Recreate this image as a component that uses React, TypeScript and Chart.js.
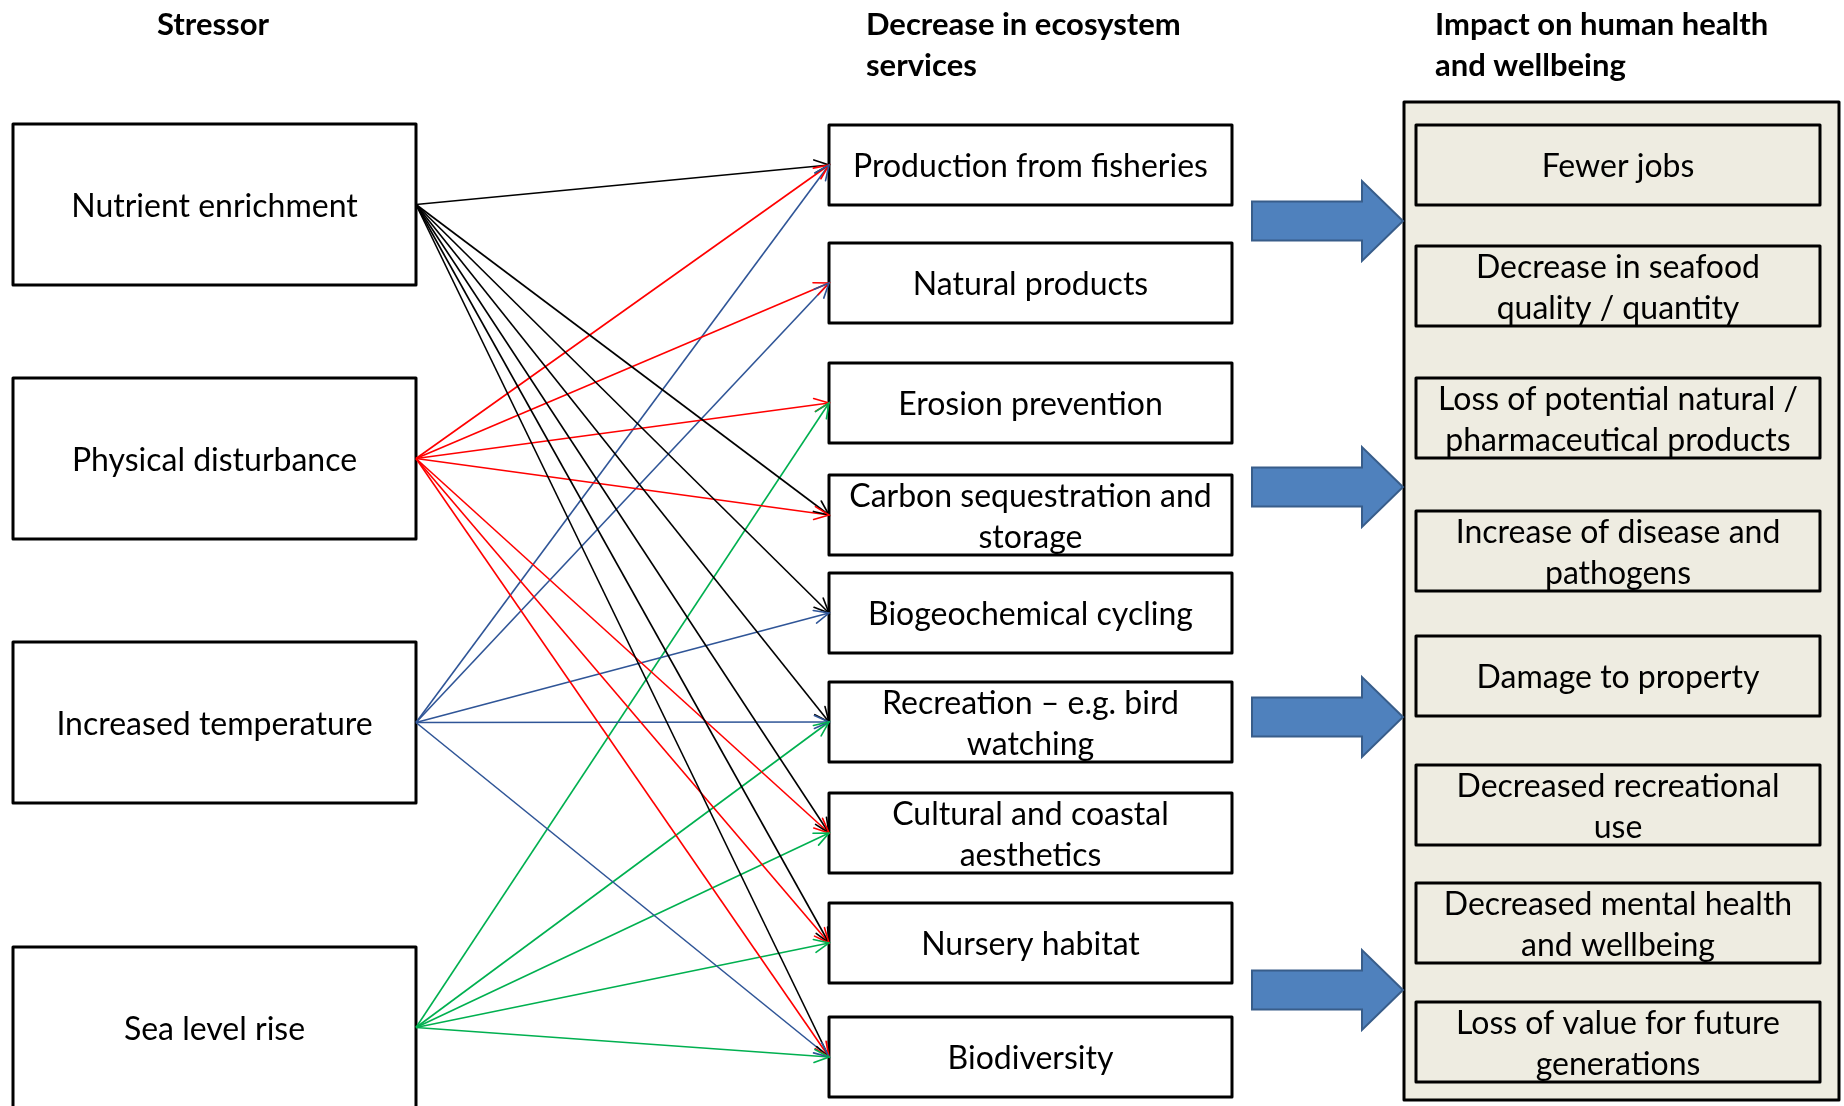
import React, { useEffect, useRef } from "react";
import { Chart, registerables } from "chart.js";

Chart.register(...registerables);

// ---------- content ----------
const headerStressor = ["Stressor"];
const headerServices = ["Decrease in ecosystem", "services"];
const headerImpacts = ["Impact on human health", "and wellbeing"];

const stressors = [
  ["Nutrient enrichment"],
  ["Physical disturbance"],
  ["Increased temperature"],
  ["Sea level rise"],
];

const services = [
  ["Production from fisheries"],
  ["Natural products"],
  ["Erosion prevention"],
  ["Carbon sequestration and", "storage"],
  ["Biogeochemical cycling"],
  ["Recreation \u2013 e.g. bird", "watching"],
  ["Cultural and coastal", "aesthetics"],
  ["Nursery habitat"],
  ["Biodiversity"],
];

const impacts = [
  ["Fewer jobs"],
  ["Decrease in seafood", "quality / quantity"],
  ["Loss of potential natural /", "pharmaceutical products"],
  ["Increase of disease and", "pathogens"],
  ["Damage to property"],
  ["Decreased recreational", "use"],
  ["Decreased mental health", "and wellbeing"],
  ["Loss of value for future", "generations"],
];

// stressor index -> list of service indices it affects
const links = [
  [0, 3, 4, 5, 6, 7, 8],
  [0, 1, 2, 3, 6, 7, 8],
  [0, 1, 4, 5, 8],
  [2, 5, 6, 7, 8],
];

// ---------- layout & style (positions in data units of the 1844x1106 scales) ----------
const layout = {
  stressorX: [13, 416],
  stressorTops: [124, 378, 642, 947],
  stressorH: 161,
  serviceX: [829, 1232],
  serviceTops: [125, 243, 363, 475, 573, 682, 793, 903, 1017],
  boxH: 80,
  panel: [1404, 102, 1839, 1100],
  impactX: [1416, 1820],
  impactTops: [125, 246, 378, 511, 636, 765, 883, 1002],
  blockArrowTipsY: [221, 487, 717, 990],
  blockArrow: { x0: 1252, xh: 1362, xt: 1403, shaftHalf: 19.5, headHalf: 40 },
};

const linkColors = ["#000000", "#FF0000", "#2F5597", "#00B050"];
const FONT = "Lato, 'Open Sans', sans-serif";

export default function App() {
  const ref = useRef<HTMLCanvasElement | null>(null);

  useEffect(() => {
    let chart: Chart | null = null;
    let cancelled = false;

    const stressorMid = (i: number) => layout.stressorTops[i] + layout.stressorH / 2;
    const serviceMid = (j: number) => layout.serviceTops[j] + layout.boxH / 2;

    const datasets: any[] = [];
    links.forEach((targets, i) => {
      targets.forEach((j) => {
        datasets.push({
          type: "line",
          data: [
            { x: layout.stressorX[1], y: stressorMid(i) },
            { x: layout.serviceX[0], y: serviceMid(j) },
          ],
          borderColor: linkColors[i],
          borderWidth: 1.6,
          pointRadius: 0,
          fill: false,
          showLine: true,
          tension: 0,
        });
      });
    });

    const diagram = {
      id: "diagram",
      beforeDatasetsDraw(c: any) {
        const ctx = c.ctx as CanvasRenderingContext2D;
        const X = (v: number) => c.scales.x.getPixelForValue(v);
        const Y = (v: number) => c.scales.y.getPixelForValue(v);
        ctx.save();
        ctx.fillStyle = "#ffffff";
        ctx.fillRect(0, 0, c.width, c.height);

        // headers
        ctx.fillStyle = "#000";
        ctx.font = `bold 31px ${FONT}`;
        ctx.textBaseline = "alphabetic";
        ctx.textAlign = "center";
        ctx.fillText(headerStressor[0], X(213), Y(34.5));
        ctx.textAlign = "left";
        headerServices.forEach((t, k) => ctx.fillText(t, X(866), Y(34.5 + 41 * k)));
        headerImpacts.forEach((t, k) => ctx.fillText(t, X(1435), Y(34.5 + 41 * k)));

        const box = (x0: number, y0: number, x1: number, y1: number, fill: string, lines: string[]) => {
          const px0 = X(x0), py0 = Y(y0), px1 = X(x1), py1 = Y(y1);
          ctx.fillStyle = fill;
          ctx.fillRect(px0, py0, px1 - px0, py1 - py0);
          ctx.lineWidth = 3;
          ctx.strokeStyle = "#000";
          ctx.lineJoin = "round";
          ctx.strokeRect(px0, py0, px1 - px0, py1 - py0);
          ctx.fillStyle = "#000";
          ctx.font = `32px ${FONT}`;
          ctx.textAlign = "center";
          ctx.textBaseline = "alphabetic";
          const cx = (px0 + px1) / 2;
          const cy = (py0 + py1) / 2;
          const n = lines.length;
          lines.forEach((t, k) => {
            const off = (k - (n - 1) / 2) * 41;
            ctx.fillText(t, cx, cy + 12 + off);
          });
        };

        stressors.forEach((s, i) =>
          box(layout.stressorX[0], layout.stressorTops[i], layout.stressorX[1], layout.stressorTops[i] + layout.stressorH, "#fff", s)
        );
        services.forEach((s, j) =>
          box(layout.serviceX[0], layout.serviceTops[j], layout.serviceX[1], layout.serviceTops[j] + layout.boxH, "#fff", s)
        );

        // right panel
        const [p0, p1, p2, p3] = layout.panel;
        ctx.fillStyle = "#EEECE1";
        ctx.fillRect(X(p0), Y(p1), X(p2) - X(p0), Y(p3) - Y(p1));
        ctx.lineWidth = 3;
        ctx.strokeStyle = "#000";
        ctx.strokeRect(X(p0), Y(p1), X(p2) - X(p0), Y(p3) - Y(p1));
        impacts.forEach((s, k) =>
          box(layout.impactX[0], layout.impactTops[k], layout.impactX[1], layout.impactTops[k] + layout.boxH, "#EEECE1", s)
        );

        // block arrows
        const a = layout.blockArrow;
        layout.blockArrowTipsY.forEach((ty) => {
          ctx.beginPath();
          ctx.moveTo(X(a.x0), Y(ty - a.shaftHalf));
          ctx.lineTo(X(a.xh), Y(ty - a.shaftHalf));
          ctx.lineTo(X(a.xh), Y(ty - a.headHalf));
          ctx.lineTo(X(a.xt), Y(ty));
          ctx.lineTo(X(a.xh), Y(ty + a.headHalf));
          ctx.lineTo(X(a.xh), Y(ty + a.shaftHalf));
          ctx.lineTo(X(a.x0), Y(ty + a.shaftHalf));
          ctx.closePath();
          ctx.fillStyle = "#4F81BD";
          ctx.fill();
          ctx.lineWidth = 2;
          ctx.strokeStyle = "#385D8A";
          ctx.lineJoin = "miter";
          ctx.stroke();
        });
        ctx.restore();
      },
      afterDatasetsDraw(c: any) {
        const ctx = c.ctx as CanvasRenderingContext2D;
        const X = (v: number) => c.scales.x.getPixelForValue(v);
        const Y = (v: number) => c.scales.y.getPixelForValue(v);
        ctx.save();
        ctx.lineWidth = 1.6;
        ctx.lineCap = "round";
        links.forEach((targets, i) => {
          targets.forEach((j) => {
            const sx = X(layout.stressorX[1]), sy = Y(stressorMid(i));
            const tx = X(layout.serviceX[0]), ty = Y(serviceMid(j));
            const ang = Math.atan2(ty - sy, tx - sx);
            const L = 16, h = 0.42;
            ctx.strokeStyle = linkColors[i];
            ctx.beginPath();
            ctx.moveTo(tx - L * Math.cos(ang - h), ty - L * Math.sin(ang - h));
            ctx.lineTo(tx, ty);
            ctx.lineTo(tx - L * Math.cos(ang + h), ty - L * Math.sin(ang + h));
            ctx.stroke();
          });
        });
        ctx.restore();
      },
    };

    const make = () => {
      if (cancelled || !ref.current) return;
      chart = new Chart(ref.current, {
        type: "scatter",
        data: { datasets },
        options: {
          animation: false,
          responsive: false,
          devicePixelRatio: 1,
          layout: { padding: 0 },
          plugins: { legend: { display: false }, tooltip: { enabled: false } },
          events: [],
          scales: {
            x: { type: "linear", min: 0, max: 1844, display: false },
            y: { type: "linear", min: 0, max: 1106, reverse: true, display: false },
          },
        },
        plugins: [diagram],
      });
    };

    const fonts: any = (document as any).fonts;
    if (fonts && fonts.load) {
      Promise.all([fonts.load(`32px Lato`), fonts.load(`bold 31px Lato`)])
        .catch(() => null)
        .then(make);
    } else make();

    return () => {
      cancelled = true;
      if (chart) chart.destroy();
    };
  }, []);

  return (
    <div style={{ position: "fixed", left: 0, top: 0, width: 1844, height: 1106, background: "#fff" }}>
      <canvas ref={ref} width={1844} height={1106} style={{ display: "block", width: 1844, height: 1106 }} />
    </div>
  );
}
